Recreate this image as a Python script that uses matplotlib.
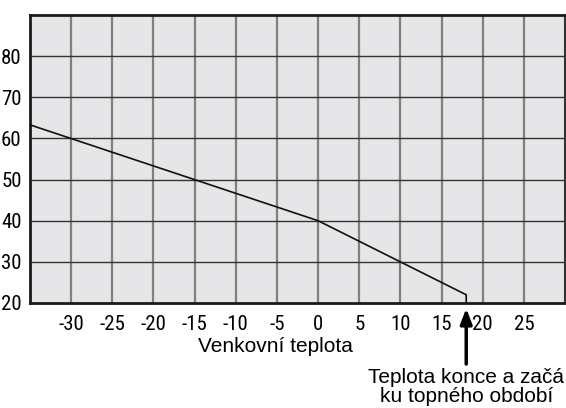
import matplotlib.pyplot as plt

# heating curve: outdoor temperature vs flow temperature
venku = [-35, 0, 10, 18, 18]
voda = [63.3, 40, 30, 22, 20]

x_ticks = [-30, -25, -20, -15, -10, -5, 0, 5, 10, 15, 20, 25]
y_ticks = [20, 30, 40, 50, 60, 70, 80]
konec_topeni = 18

plt.rcParams['axes.unicode_minus'] = False
plt.rcParams['font.family'] = ['Roboto Condensed', 'Liberation Sans Narrow', 'DejaVu Sans']

fig = plt.figure(figsize=(5.66, 4.08), dpi=100)
ax = fig.add_axes([30 / 566, 1 - 303 / 408, 535 / 566, 288 / 408])
ax.set_facecolor('#e6e6e8')

ax.set_xlim(-35, 30)
ax.set_ylim(20, 90)
ax.set_xticks(x_ticks)
ax.set_yticks(y_ticks)
ax.tick_params(length=0, labelsize=15)
ax.tick_params(axis='x', pad=9)
ax.tick_params(axis='y', pad=6)

# grid
for x in x_ticks:
    ax.axvline(x, color='#808080', lw=1.6, zorder=1)
for y in [30, 40, 50, 60, 70, 80]:
    ax.axhline(y, color='#333333', lw=1.0, zorder=1)

for s in ['left', 'bottom', 'top']:
    ax.spines[s].set_linewidth(2)
    ax.spines[s].set_color('#1a1a1a')
ax.spines['right'].set_linewidth(1.5)
ax.spines['right'].set_color('#333333')

ax.plot(venku, voda, color='#111111', lw=1.2, zorder=3)

popis = dict(fontsize=15, family=['Liberation Sans', 'DejaVu Sans'], va='baseline', ha='center')
fig.text(275 / 566, 1 - 352 / 408, 'Venkovní teplota', **popis)

# arrow marking end/start of heating season
ax.annotate('', xy=(konec_topeni, 20), xycoords='data',
            xytext=(konec_topeni, 1 - 364 / 408), textcoords=('data', 'figure fraction'),
            arrowprops=dict(arrowstyle='-|>,head_length=0.9,head_width=0.35',
                            color='black', lw=2.5, shrinkA=0, shrinkB=4),
            annotation_clip=False)
tr = ax.get_xaxis_transform()
ax.text(konec_topeni, -(383 - 303) / 288, 'Teplota konce a začá', transform=tr, **popis)
ax.text(konec_topeni, -(402 - 303) / 288, 'ku topného období', transform=tr, **popis)

fig.savefig('out.png', dpi=100)
